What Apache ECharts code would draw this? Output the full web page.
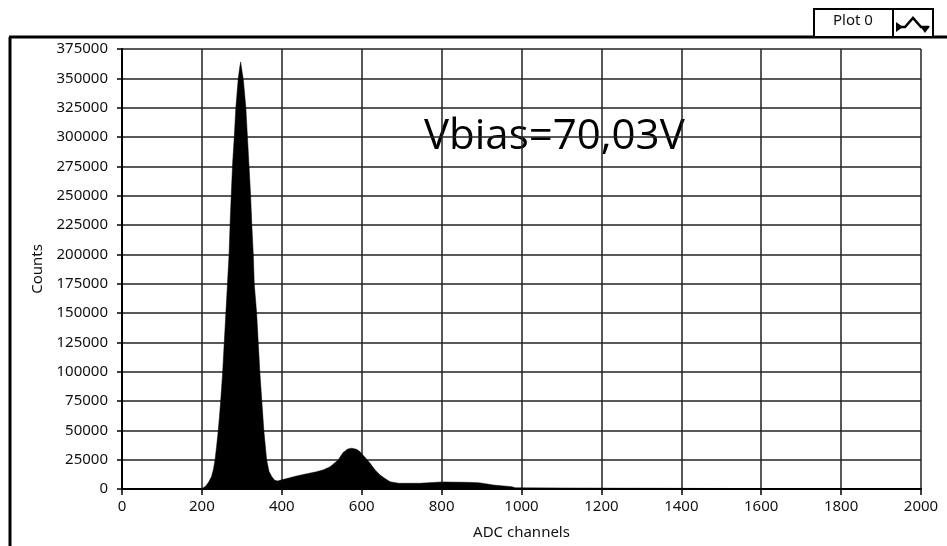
<!DOCTYPE html>
<html>
<head>
<meta charset="utf-8">
<script src="https://cdn.jsdelivr.net/npm/echarts@6/dist/echarts.min.js"></script>
<style>
  html, body { margin: 0; padding: 0; background: #fff; }
  #chart { width: 947px; height: 546px; }
</style>
</head>
<body>
<div id="chart"></div>
<script>
// ADC channel / counts
const channels = [0, 195, 200, 205, 212, 218, 224, 229, 233, 237, 241, 244, 247, 250, 252, 256, 260, 264, 268, 271,
  274, 277, 281, 285, 291, 295, 297, 300, 304, 310, 314, 318, 322, 325, 329, 331, 337, 341, 345, 350,
  355, 362, 368, 375, 382, 390, 400, 404, 420, 437, 460, 487, 505, 521, 541, 553, 565, 575, 587, 596,
  603, 612, 621, 633, 646, 660, 671, 692, 746, 750, 800, 860, 892, 910, 929, 950, 975, 985, 1230, 1232, 2000]
const counts = [0, 0, 300, 1200, 3400, 6500, 10500, 17000, 25000, 37000, 50000, 62000, 75000, 90000, 100000, 125000, 150000, 175000, 200000, 230000,
  255000, 278000, 300000, 325000, 350000, 360000, 364000, 357000, 348000, 325000, 300000, 275000, 250000, 225000, 197000, 175000, 150000, 125000, 100000, 75000,
  50000, 25000, 15000, 10500, 7500, 6800, 7800, 8300, 9500, 11100, 12800, 14700, 16500, 19000, 24700, 31000, 34000, 34800, 33800, 31800,
  29000, 25500, 21900, 16500, 11900, 8500, 6200, 4900, 4900, 6000, 6000, 5700, 5400, 4500, 3400, 2700, 2000, 1000, 700, 0, 0]

const seriesName = 'Plot 0'
const annotation = 'Vbias=70,03V'

const chart = echarts.init(document.getElementById('chart'))

const labelFont = 'Noto Sans'
const plain = v => String(v)   // no thousands separators

const option = {
  animation: false,
  backgroundColor: '#fff',
  grid: { left: 122, right: 26, top: 49, bottom: 57 },
  xAxis: {
    type: 'value',
    min: 0,
    max: 2000,
    interval: 200,
    name: 'ADC channels',
    nameLocation: 'middle',
    nameGap: 36,
    nameTextStyle: { fontFamily: labelFont, fontSize: 15, color: '#111' },
    axisLine: { show: true, lineStyle: { color: '#000', width: 2 } },
    axisTick: { show: true, length: 6, lineStyle: { color: '#000', width: 1.5 } },
    axisLabel: { margin: 10, fontFamily: labelFont, fontSize: 15, color: '#111', formatter: plain },
    splitLine: { show: true, lineStyle: { color: '#222', width: 1.5 } }
  },
  yAxis: {
    type: 'value',
    min: 0,
    max: 375000,
    interval: 25000,
    name: 'Counts',
    nameLocation: 'middle',
    nameGap: 74,
    nameTextStyle: { fontFamily: labelFont, fontSize: 15, color: '#111' },
    axisLine: { show: true, lineStyle: { color: '#000', width: 2 } },
    axisTick: { show: true, length: 5, lineStyle: { color: '#000', width: 1.5 } },
    axisLabel: { margin: 14, fontFamily: labelFont, fontSize: 15, color: '#111', formatter: plain },
    splitLine: { show: true, lineStyle: { color: '#222', width: 1.5 } }
  },
  series: [{
    name: seriesName,
    type: 'line',
    showSymbol: false,
    data: channels.map((c, i) => [c, counts[i]]),
    lineStyle: { color: '#000', width: 0.5 },
    areaStyle: { color: '#000', opacity: 1 }
  }],
  graphic: [
    // outer frame
    { type: 'line', shape: { x1: 10, y1: 37, x2: 10, y2: 546 }, style: { stroke: '#000', lineWidth: 3 } },
    { type: 'line', shape: { x1: 9, y1: 37, x2: 947, y2: 37 }, style: { stroke: '#000', lineWidth: 3 } },
    // legend box
    { type: 'rect', shape: { x: 814, y: 9, width: 79, height: 28 }, style: { fill: '#fff', stroke: '#000', lineWidth: 2 } },
    { type: 'rect', shape: { x: 893, y: 9, width: 40, height: 28 }, style: { fill: '#fff', stroke: '#000', lineWidth: 2 } },
    { type: 'text', left: 833, top: 13, style: { text: seriesName, fontFamily: labelFont, fontSize: 15, fill: '#111' } },
    { type: 'polyline', shape: { points: [[897, 27], [905, 27], [913, 18], [921, 27], [929, 27]] }, style: { stroke: '#000', lineWidth: 2.5, fill: null } },
    { type: 'polygon', shape: { points: [[896, 22], [903, 27], [896, 32]] }, style: { fill: '#000' } },
    { type: 'polygon', shape: { points: [[920, 26], [930, 26], [925, 33]] }, style: { fill: '#000' } },
    // annotation
    { type: 'text', left: 424, top: 116, style: { text: annotation, fontFamily: 'Open Sans', fontSize: 42, fill: '#000' } }
  ]
}

chart.setOption(option)
</script>
</body>
</html>
